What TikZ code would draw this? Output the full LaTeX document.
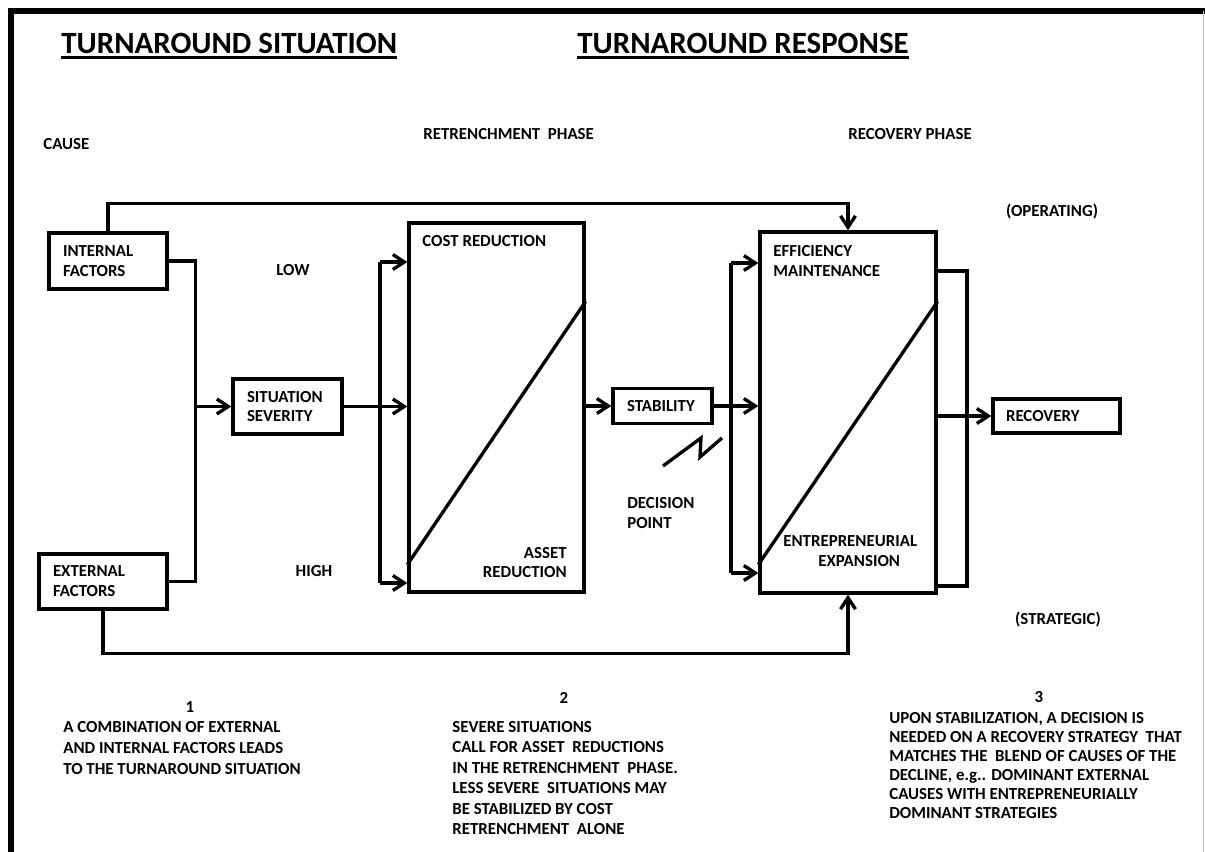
\documentclass[tikz,border=0pt]{standalone}
\usepackage{fontspec}
\setmainfont{Carlito}
\usetikzlibrary{arrows.meta,calc,positioning}
\newlength{\pxl}\setlength{\pxl}{0.02cm}
\newcommand{\ulttl}[1]{\setbox0\hbox{#1}\rlap{\rule[-3.6pt]{\wd0}{1.7pt}}\box0}

\begin{document}
\begin{tikzpicture}[x=0.02cm, y=-0.02cm, >={Straight Barb[length=6.5pt,width=8.5pt]},
    every node/.style={font=\fontsize{9.6}{11.3}\selectfont\bfseries, inner sep=0pt},
    wire/.style={line width=1.9pt},
    box/.style={draw, line width=1.9pt, align=left, inner xsep=14\pxl, inner ysep=0pt},
    big/.style={draw, line width=1.9pt},
    lbl/.style={anchor=west, align=left},
    ttl/.style={font=\fontsize{17.6}{20}\selectfont\bfseries, anchor=base west}]
      \useasboundingbox (0,0) rectangle (1205,852);

      % frame
      \draw[line width=3pt] (11,852) -- (11,11) -- (1205,11);
      \draw[black!25, line width=0.6pt] (1203.5,11) -- (1203.5,852);

      % headings
      \node[ttl] (sit) at (61,53) {\ulttl{TURNAROUND SITUATION}};
      \node[ttl] (resp) at (577,53) {\ulttl{TURNAROUND RESPONSE}};
      \node[lbl] (cause) at (43,144) {CAUSE};
      \node[lbl] (retph) at (423,134) {RETRENCHMENT\ \ PHASE};
      \node[lbl] (recph) at (848,134) {RECOVERY PHASE};
      \node (oper) at (1052,212) {(OPERATING)};
      \node (strat) at (1058,620) {(STRATEGIC)};

      % boxes
      \node[box, text width=90\pxl, minimum height=56\pxl] (internal) at (108,261) {INTERNAL\\FACTORS};
      \node[box, text width=100\pxl, minimum height=55\pxl] (external) at (103,581.5) {EXTERNAL\\FACTORS};
      \node[box, text width=81\pxl, minimum height=55\pxl] (severity) at (287.5,406.5) {SITUATION\\SEVERITY};
      \node[box, text width=71\pxl, minimum height=35\pxl] (stability) at (662.5,406) {STABILITY};
      \node[box, inner xsep=13\pxl, text width=101\pxl, minimum height=34\pxl] (recovery) at (1056.5,416) {RECOVERY};
      \node[big, minimum width=175\pxl, minimum height=369\pxl] (retrench) at (496.5,407.5) {};
      \node[big, minimum width=176\pxl, minimum height=361\pxl] (recovbox) at (848,412.5) {};

      \node[lbl] (cost) at (422,241) {COST REDUCTION};
      \node[anchor=east, align=right] (asset) at (567,562.5) {ASSET\\REDUCTION};
      \node[lbl] (effic) at (773,261) {EFFICIENCY\\MAINTENANCE};
      \node[lbl] (entre) at (783,551) {ENTREPRENEURIAL\\\hspace*{35\pxl}EXPANSION};

      \node (low) at (293,270) {LOW};
      \node (high) at (314,571) {HIGH};
      \node[lbl] (decide) at (627,513) {DECISION\\POINT};

      % notes
      \node (n1) at (190,707) {1};
      \node[lbl, font=\fontsize{9.6}{11.9}\selectfont\bfseries] (note1) at (63,748) {A COMBINATION OF EXTERNAL\\AND INTERNAL FACTORS LEADS\\TO THE TURNAROUND SITUATION};
      \node (n2) at (564,698) {2};
      \node[lbl, font=\fontsize{9.6}{11.6}\selectfont\bfseries] (note2) at (452,778) {SEVERE SITUATIONS\\CALL FOR ASSET\ \ REDUCTIONS\\IN THE RETRENCHMENT\ \ PHASE.\\LESS SEVERE\ \ SITUATIONS MAY\\BE STABILIZED BY COST\\RETRENCHMENT\ \ ALONE};
      \node (n3) at (1039,697) {3};
      \node[lbl, font=\fontsize{9.6}{10.8}\selectfont\bfseries] (note3) at (889,765.5) {UPON STABILIZATION, A DECISION IS\\NEEDED ON A RECOVERY STRATEGY\ \ THAT\\MATCHES THE\ \ BLEND OF CAUSES OF THE\\DECLINE, e.g.. DOMINANT EXTERNAL\\CAUSES WITH ENTREPRENEURIALLY\\DOMINANT STRATEGIES};

      % connectors
      \draw[wire] (internal.east) -- ++(27,0) coordinate (join) |- (external.east);
      \draw[wire,->] (join |- severity.west) -- (severity.west);
      \draw[wire,->] (severity.east) -- (severity.east -| retrench.west);

      \coordinate (rtop) at (380,262);
      \coordinate (rbot) at (380,583);
      \draw[wire] (rtop) -- (rbot);
      \draw[wire,->] (rtop) -- (rtop -| retrench.west);
      \draw[wire,->] (rbot) -- (rbot -| retrench.west);

      \draw[wire] ($(retrench.south west)+(0,-29)$) -- ($(retrench.north east)+(0,80)$);
      \draw[wire,->] (retrench.east |- stability.west) -- (stability.west);

      \coordinate (stop) at (731,263);
      \coordinate (sbot) at (731,573);
      \draw[wire] (stop) -- (sbot);
      \draw[wire,->] (stop) -- (stop -| recovbox.west);
      \draw[wire,->] (stability.east) -- (stability.east -| recovbox.west);
      \draw[wire,->] (sbot) -- (sbot -| recovbox.west);
      \draw[wire] (663,466) -- (701,438) -- (700,457) -- (722,438);

      \draw[wire] ($(recovbox.south west)+(0,-30)$) -- ($(recovbox.north east)+(0,71)$);
      \draw[line width=2.3pt] ($(recovbox.north east)+(0,41)$) -- ++(29,0) |- ($(recovbox.south east)+(0,-9)$);
      \draw[wire,->] (recovbox.east |- recovery.west) -- (recovery.west);

      \draw[wire,->] (internal.north) -- ++(0,-28) -| (recovbox.north);
      \draw[wire,->] (external.south) -- ++(0,43) -| (recovbox.south);
    \end{tikzpicture}
\end{document}
